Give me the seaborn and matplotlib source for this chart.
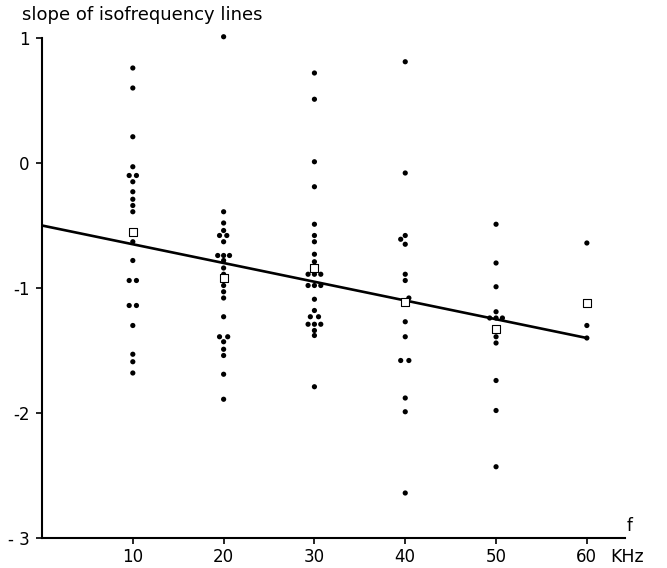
import matplotlib
matplotlib.use("Agg")
import matplotlib.pyplot as plt
import seaborn as sns
import pandas as pd

# ---- data ----
f10_x = [10, 10, 10, 10, 9.6, 10.4, 10, 10, 10, 10, 10, 10, 10, 9.6, 10.4, 9.6, 10.4, 10, 10, 10, 10]
f10_y = [0.76, 0.60, 0.21, -0.03, -0.10, -0.10, -0.15, -0.23, -0.29, -0.34, -0.39, -0.63, -0.78,
         -0.94, -0.94, -1.14, -1.14, -1.30, -1.53, -1.59, -1.68]

f20_x = [20, 20, 20, 20, 19.55, 20.35, 20, 19.35, 20, 20.65, 20, 20, 20, 20, 20, 20, 20,
         19.55, 20.45, 20, 20, 20, 20, 20]
f20_y = [1.01, -0.39, -0.48, -0.54, -0.58, -0.58, -0.63, -0.74, -0.74, -0.74, -0.78, -0.84, -0.89,
         -0.98, -1.03, -1.08, -1.23, -1.39, -1.39, -1.43, -1.49, -1.54, -1.69, -1.89]

f30_x = [30, 30, 30, 30, 30, 30, 30, 30, 30, 29.3, 30, 30.7, 29.3, 30, 30.7, 30, 30,
         29.55, 30.45, 29.3, 30, 30.7, 30, 30, 30]
f30_y = [0.72, 0.51, 0.01, -0.19, -0.49, -0.58, -0.63, -0.73, -0.79, -0.89, -0.89, -0.89,
         -0.98, -0.98, -0.98, -1.09, -1.18, -1.23, -1.23, -1.29, -1.29, -1.29, -1.34, -1.38, -1.79]

f40_x = [40, 40, 40, 39.5, 40, 40, 40, 40.4, 40, 40, 39.5, 40.4, 40, 40, 40]
f40_y = [0.81, -0.08, -0.58, -0.61, -0.65, -0.89, -0.94, -1.08, -1.27, -1.39, -1.58, -1.58,
         -1.88, -1.99, -2.64]

f50_x = [50, 50, 50, 50, 49.3, 50, 50.7, 50, 50, 50, 50, 50]
f50_y = [-0.49, -0.80, -0.99, -1.19, -1.24, -1.24, -1.24, -1.39, -1.44, -1.74, -1.98, -2.43]

f60_x = [60, 60, 60]
f60_y = [-0.64, -1.30, -1.40]

mean_f = [10, 20, 30, 40, 50, 60]
mean_slope = [-0.55, -0.92, -0.84, -1.11, -1.33, -1.12]

line_f = [0, 60]
line_slope = [-0.50, -1.40]

x_ticks = [10, 20, 30, 40, 50, 60]
x_ticklabels = ["10", "20", "30", "40", "50", "60"]
y_ticks = [1, 0, -1, -2, -3]
y_ticklabels = ["1", "0", "-1", "-2", "- 3"]

# ---- build tables ----
pts = pd.DataFrame({
    "f": f10_x + f20_x + f30_x + f40_x + f50_x + f60_x,
    "slope": f10_y + f20_y + f30_y + f40_y + f50_y + f60_y,
})
means = pd.DataFrame({"f": mean_f, "slope": mean_slope})

sns.set_style("ticks")
plt.rcParams["font.family"] = ["DejaVu Sans"]

fig = plt.figure(figsize=(6.67, 5.68), dpi=100)
W, H = 667, 568
ax = fig.add_axes([42 / W, 1 - 538 / H, (625 - 42) / W, (538 - 38) / H])

sns.lineplot(x=line_f, y=line_slope, color="black", linewidth=1.9, ax=ax)
sns.scatterplot(data=pts, x="f", y="slope", color="black", s=14, edgecolor="none",
                ax=ax, clip_on=False, zorder=3)
sns.scatterplot(data=means, x="f", y="slope", marker="s", facecolor="white",
                edgecolor="black", s=26, linewidth=0.8, ax=ax, zorder=4)

ax.set_xlim(0, 64.2)
ax.set_ylim(-3, 1)
ax.set_xticks(x_ticks)
ax.set_xticklabels(x_ticklabels)
ax.set_yticks(y_ticks)
ax.set_yticklabels(y_ticklabels)
ax.set_xlabel("")
ax.set_ylabel("")

for s in ["top", "right"]:
    ax.spines[s].set_visible(False)
for s in ["left", "bottom"]:
    ax.spines[s].set_color("black")
    ax.spines[s].set_linewidth(1.5)

ax.tick_params(axis="x", direction="out", length=4, width=1.2, pad=3,
               labelsize=12, colors="black")
ax.tick_params(axis="y", direction="out", length=4, width=1.2, pad=5,
               labelsize=12, colors="black")

fig.text(22 / W, 1 - 15 / H, "slope of isofrequency lines", fontsize=13,
         ha="left", va="center", color="black")
fig.text(630 / W, 1 - 526 / H, "f", fontsize=12, ha="center", va="center", color="black")
fig.text(610 / W, 1 - 557 / H, "KHz", fontsize=12.5, ha="left", va="center", color="black")

fig.savefig("out.png", dpi=100)
